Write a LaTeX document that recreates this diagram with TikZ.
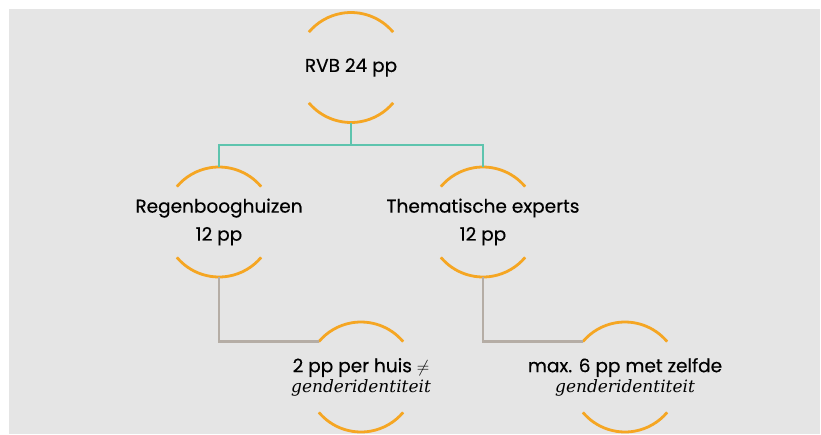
\documentclass[tikz,border=0pt]{standalone}
\usepackage{fontspec}
\setmainfont{Poppins}[FakeBold=0.4]
\newfontfamily\gendfont{DejaVu Serif}
\usepackage{xcolor}
\usepackage{tikz}
\definecolor{bgGrey}{HTML}{E5E5E5}
\definecolor{arcOrange}{HTML}{F5A623}
\definecolor{linkTeal}{HTML}{5EC4AE}
\definecolor{linkTaupe}{HTML}{B5ADA5}
\tikzset{ringnode/.style={circle,minimum size=110pt,inner sep=0pt,outer sep=0pt},
  ringtext/.style={align=center,inner sep=0pt,font=\fontsize{18.5}{28}\selectfont},
  ringarc/.style={draw=arcOrange,line width=2.8pt},
  tealline/.style={draw=linkTeal,line width=2.6pt},
  taupeline/.style={draw=linkTaupe,line width=2.6pt}}
\newcommand{\gend}[1]{{\gendfont\itshape\fontsize{17}{20}\selectfont #1}}

\begin{document}
\begin{tikzpicture}[x=1pt,y=-1pt]
  \useasboundingbox (0,0) rectangle (821,434);
  \fill[bgGrey] (9,9) rectangle (820,434);
  \node[ringnode,label={[ringtext]center:RVB 24 pp}] (rvb) at (351,67.5) {};
  \node[ringnode,label={[ringtext]center:Regenbooghuizen\\12 pp}] (rgh) at (219,222) {};
  \node[ringnode,label={[ringtext]center:Thematische experts\\12 pp}] (the) at (483,222) {};
  \node[ringnode,label={[ringtext]center:2 pp per huis $\neq$\\[-8pt]\gend{genderidentiteit}}] (huis) at (361,377) {};
  \node[ringnode,label={[ringtext]center:max. 6 pp met zelfde\\[-8pt]\gend{genderidentiteit}}] (max) at (625,377) {};
  % orange half rings
  \foreach \n in {rvb,rgh,the,huis,max}
    \draw[ringarc] (\n.40) arc[start angle=40,end angle=140,radius=55pt]
                   (\n.220) arc[start angle=220,end angle=320,radius=55pt];
  % links
  \draw[tealline] (rvb.south) -- ++(0,23);
  \draw[tealline] (rgh.north) -- ++(0,-22) -| (the.north);
  \draw[taupeline] (rgh.south) |- (huis.140);
  \draw[taupeline] (the.south) |- (max.140);
\end{tikzpicture}
\end{document}
